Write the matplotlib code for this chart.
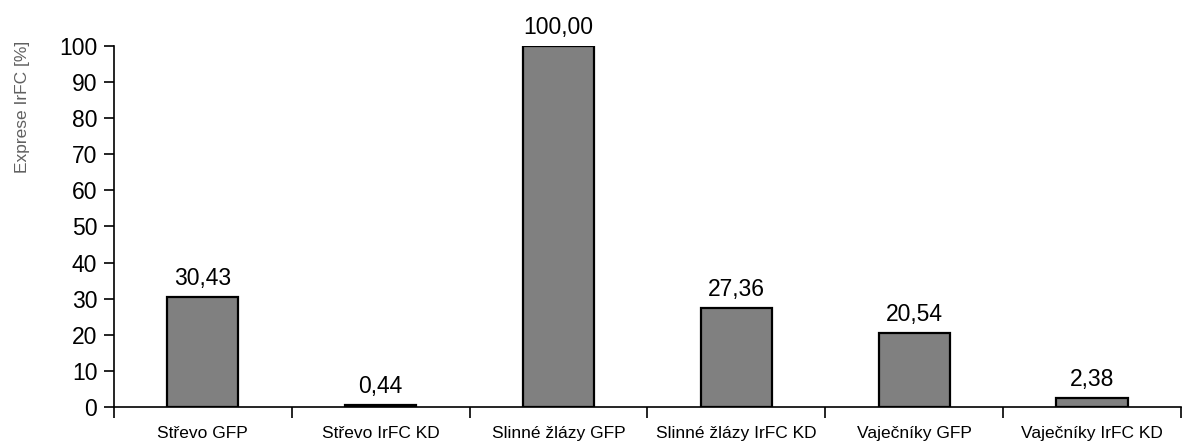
import matplotlib.pyplot as plt
import numpy as np

plt.rcParams['font.family'] = ['Liberation Sans', 'DejaVu Sans']

categories = ['Střevo GFP', 'Střevo IrFC KD', 'Slinné žlázy GFP',
              'Slinné žlázy IrFC KD', 'Vaječníky GFP', 'Vaječníky IrFC KD']
values = [30.43, 0.44, 100.00, 27.36, 20.54, 2.38]
labels = ['30,43', '0,44', '100,00', '27,36', '20,54', '2,38']

fig = plt.figure(figsize=(11.82, 4.43), dpi=100)
ax = fig.add_axes([0.0964, 0.0813, 0.9027, 0.8149])

x = np.arange(len(categories))
ax.bar(x, values, width=0.4, color='#808080', edgecolor='black', linewidth=1.6, zorder=2)

for xi, v, lab in zip(x, values, labels):
    ax.annotate(lab, (xi, v), xytext=(0, 5), textcoords='offset points',
                ha='center', va='bottom', fontsize=16.5, annotation_clip=False)

ax.set_xlim(-0.5, len(categories) - 0.5)
ax.set_ylim(0, 100)
ax.set_yticks(range(0, 101, 10))
ax.tick_params(axis='y', labelsize=16.5, length=7, width=1.2, pad=5)

# boundary ticks below the axis, labels centred under the bars
ax.set_xticks(np.arange(-0.5, len(categories), 1.0))
ax.set_xticklabels([])
ax.tick_params(axis='x', which='major', length=8, width=1.2, direction='out')
ax.set_xticks(x, minor=True)
ax.set_xticklabels(categories, minor=True, fontsize=12.5)
ax.tick_params(axis='x', which='minor', length=0, pad=14)

ax.spines['top'].set_visible(False)
ax.spines['right'].set_visible(False)
ax.spines['left'].set_linewidth(1.2)
ax.spines['bottom'].set_linewidth(1.2)

ax.set_ylabel('Exprese IrFC [%]', fontsize=12.5, color='#606060')
ax.yaxis.set_label_coords(-0.079, 0.83)

fig.savefig('out.png', dpi=100)
